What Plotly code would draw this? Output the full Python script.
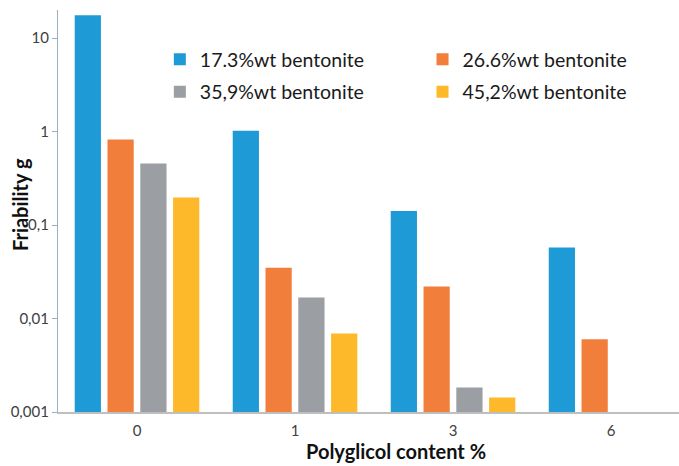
import plotly.graph_objects as go

categories = ["0", "1", "3", "6"]
series_names = ["17.3%wt bentonite", "26.6%wt bentonite", "35,9%wt bentonite", "45,2%wt bentonite"]
s_173 = [17.5, 1.02, 0.141, 0.0575]
s_266 = [0.82, 0.035, 0.022, 0.006]
s_359 = [0.455, 0.0168, 0.00183, None]
s_452 = [0.197, 0.0069, 0.00143, None]
colors = ["#1E9BD7", "#F27E3C", "#9B9EA2", "#FDB92A"]
legend_ids = ["legend", "legend2", "legend", "legend2"]

ytick_vals = [0.001, 0.01, 0.1, 1, 10]
ytick_text = ["0,001", "0,01", "0,1", "1", "10"]

FONT = "Lato, 'Open Sans', sans-serif"

fig = go.Figure()
for name, vals, col, lg in zip(series_names, [s_173, s_266, s_359, s_452], colors, legend_ids):
    fig.add_trace(go.Bar(
        x=categories, y=vals, name=name, marker_color=col,
        marker_line_width=0, legend=lg, legendgroup=name,
    ))

legend_common = dict(
    font=dict(family=FONT, size=19.5, color="#1a1a1a"),
    bgcolor="rgba(0,0,0,0)", traceorder="grouped", tracegroupgap=4,
    yanchor="top", xanchor="left", itemwidth=30,
)

fig.update_layout(
    width=679, height=466,
    margin=dict(l=58, r=0, t=10, b=54),
    paper_bgcolor="white", plot_bgcolor="white",
    barmode="group", bargap=0.17, bargroupgap=0.2,
    font=dict(family=FONT, color="#404040"),
    showlegend=True,
    legend=dict(x=0.164, y=0.925, **legend_common),
    legend2=dict(x=0.587, y=0.925, **legend_common),
    xaxis=dict(
        type="category", range=[-0.5, 3.43], automargin=False,
        showline=True, linecolor="#BFBFBF", linewidth=1.5,
        ticks="", showgrid=False, ticklabelstandoff=4,
        tickfont=dict(family=FONT, size=15, color="#404040"),
    ),
    yaxis=dict(
        type="log", range=[-3, 1.3], automargin=False,
        tickvals=ytick_vals, ticktext=ytick_text,
        showline=True, linecolor="#9AAFC4", linewidth=1.2,
        ticks="outside", ticklen=5, tickcolor="#9AAFC4",
        showgrid=False, zeroline=False,
        tickfont=dict(family=FONT, size=15, color="#404040"),
    ),
    annotations=[
        dict(
            text="<b>Polyglicol content %</b>", xref="paper", yref="paper",
            x=0.544, y=-0.097, xanchor="center", yanchor="middle", showarrow=False,
            font=dict(family=FONT, size=20, color="#111111"),
        ),
        dict(
            text="<b>Friability g</b>", xref="paper", yref="paper", textangle=-90,
            x=-0.061, y=0.515, xanchor="center", yanchor="middle", showarrow=False,
            font=dict(family=FONT, size=20, color="#111111"),
        ),
    ],
)

fig.write_html("out.html")
